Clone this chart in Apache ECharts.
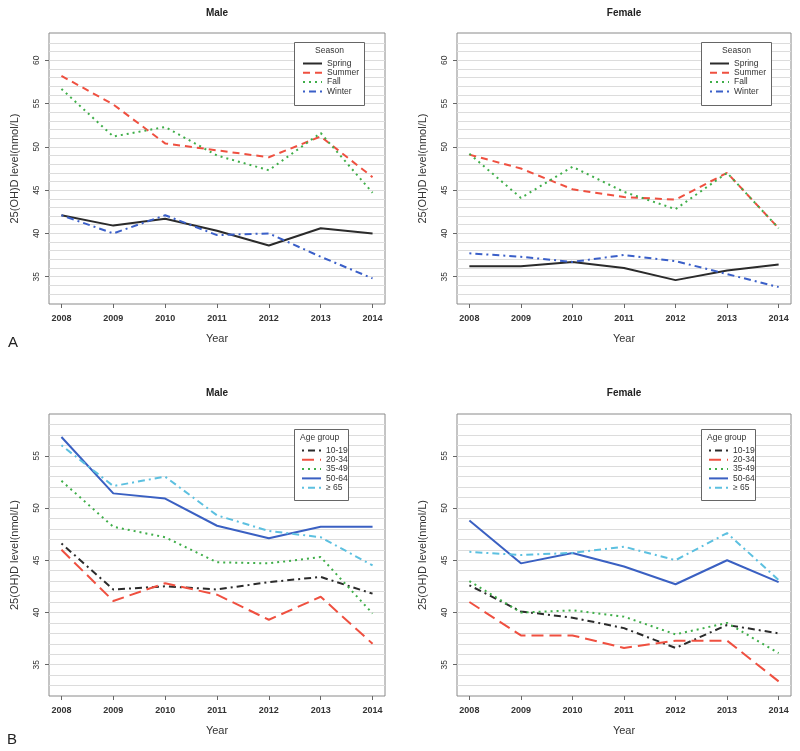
<!DOCTYPE html>
<html><head><meta charset="utf-8">
<script src="https://cdn.jsdelivr.net/npm/echarts@6/dist/echarts.min.js"></script>
<style>html,body{margin:0;padding:0;background:#fff}#c{width:800px;height:751px}</style>
</head><body><div id="c"></div>
<script>
const years = [2008, 2009, 2010, 2011, 2012, 2013, 2014];
const seasonNames = ['Spring', 'Summer', 'Fall', 'Winter'];
const ageNames = ['10-19', '20-34', '35-49', '50-64', '\u2265 65'];
const ticksA = [35, 40, 45, 50, 55, 60];
const ticksB = [35, 40, 45, 50, 55];

const maleSpring   = [42.1, 40.9, 41.7, 40.3, 38.6, 40.6, 40.0];
const maleSummer   = [58.2, 54.9, 50.4, 49.6, 48.8, 51.2, 46.5];
const maleFall     = [56.7, 51.2, 52.3, 49.0, 47.3, 51.6, 44.7];
const maleWinter   = [42.1, 40.0, 42.1, 39.8, 40.0, 37.3, 34.8];
const femaleSpring = [36.2, 36.2, 36.7, 36.0, 34.6, 35.7, 36.4];
const femaleSummer = [49.1, 47.5, 45.1, 44.2, 43.9, 47.0, 40.6];
const femaleFall   = [49.2, 44.1, 47.7, 44.8, 42.8, 47.0, 40.6];
const femaleWinter = [37.7, 37.3, 36.7, 37.5, 36.8, 35.3, 33.8];

const maleAge1019   = [46.6, 42.2, 42.5, 42.2, 42.9, 43.4, 41.8];
const maleAge2034   = [46.0, 41.1, 42.8, 41.7, 39.3, 41.5, 37.0];
const maleAge3549   = [52.6, 48.2, 47.2, 44.8, 44.7, 45.3, 39.9];
const maleAge5064   = [56.8, 51.4, 50.9, 48.3, 47.1, 48.2, 48.2];
const maleAge65     = [56.0, 52.1, 53.0, 49.3, 47.8, 47.2, 44.5];
const femaleAge1019 = [42.6, 40.1, 39.5, 38.5, 36.6, 38.8, 38.0];
const femaleAge2034 = [41.0, 37.8, 37.8, 36.6, 37.3, 37.3, 33.4];
const femaleAge3549 = [43.0, 40.0, 40.2, 39.6, 37.9, 39.0, 36.1];
const femaleAge5064 = [48.8, 44.7, 45.7, 44.4, 42.7, 45.0, 42.9];
const femaleAge65   = [45.8, 45.5, 45.7, 46.3, 45.0, 47.6, 43.1];

const seasonStyles = [
  {color: '#2b2b2b', type: 'solid'},
  {color: '#ef5040', type: [7, 5]},
  {color: '#3fae49', type: [2, 4]},
  {color: '#3a5fc8', type: [2, 4, 7, 4]}
];
const ageStyles = [
  {color: '#2b2b2b', type: [2, 4, 7, 4]},
  {color: '#ef5040', type: [12, 6]},
  {color: '#3fae49', type: [2, 4]},
  {color: '#3a60c2', type: 'solid'},
  {color: '#5cc0e0', type: [2, 4, 7, 4]}
];

const panels = [
  {grid: {left: 49, top: 33, width: 336, height: 271}, range: [33, 62], ticks: ticksA,
   names: seasonNames, styles: seasonStyles, data: [maleSpring, maleSummer, maleFall, maleWinter]},
  {grid: {left: 457, top: 33, width: 334, height: 271}, range: [33, 62], ticks: ticksA,
   names: seasonNames, styles: seasonStyles, data: [femaleSpring, femaleSummer, femaleFall, femaleWinter]},
  {grid: {left: 49, top: 414, width: 336, height: 282}, range: [33, 58], ticks: ticksB,
   names: ageNames, styles: ageStyles, data: [maleAge1019, maleAge2034, maleAge3549, maleAge5064, maleAge65]},
  {grid: {left: 457, top: 414, width: 334, height: 282}, range: [33, 58], ticks: ticksB,
   names: ageNames, styles: ageStyles, data: [femaleAge1019, femaleAge2034, femaleAge3549, femaleAge5064, femaleAge65]}
];

const font = 'Liberation Sans, Arial, sans-serif';
const txt = '#333';
const grids = [], xAxes = [], yAxes = [], gridYAxes = [], series = [];
const xPad = (years[years.length - 1] - years[0]) * 0.04;

panels.forEach((p, i) => {
  grids.push(Object.assign({show: true, borderColor: '#8a8a8a', borderWidth: 1, backgroundColor: 'transparent'}, p.grid));
  xAxes.push({
    type: 'value', gridIndex: i,
    min: years[0] - xPad, max: years[years.length - 1] + xPad,
    axisLine: {show: false},
    axisTick: {show: true, length: 4, customValues: years, lineStyle: {color: '#666'}},
    axisLabel: {customValues: years, formatter: v => String(v), margin: 10, fontSize: 9, fontWeight: 'bold', color: txt, fontFamily: font},
    splitLine: {show: false},
    name: 'Year', nameLocation: 'middle', nameGap: 29,
    nameTextStyle: {fontSize: 11, color: txt, fontFamily: font}
  });
  const span = p.range[1] - p.range[0];
  const ymin = p.range[0] - span * 0.04, ymax = p.range[1] + span * 0.04;
  const gridVals = [];
  for (let v = p.range[0]; v <= p.range[1]; v++) gridVals.push(v);
  yAxes.push({
    type: 'value', gridIndex: i, position: 'left', min: ymin, max: ymax,
    axisLine: {show: false},
    axisTick: {show: true, length: 4, customValues: p.ticks, lineStyle: {color: '#666'}},
    axisLabel: {customValues: p.ticks, rotate: 90, margin: 8, fontSize: 8.5, color: txt, fontFamily: font},
    splitLine: {show: false},
    name: '25(OH)D level(nmol/L)', nameLocation: 'middle', nameGap: 29,
    nameTextStyle: {fontSize: 11, color: txt, fontFamily: font}
  });
  gridYAxes.push({
    type: 'value', gridIndex: i, position: 'right', min: ymin, max: ymax,
    axisLine: {show: false},
    axisTick: {show: false, customValues: gridVals},
    axisLabel: {show: false},
    splitLine: {show: true, lineStyle: {color: '#dcdcdc', width: 1}}
  });
  p.names.forEach((n, k) => {
    series.push({
      type: 'line', name: n, xAxisIndex: i, yAxisIndex: i,
      data: years.map((y, j) => [y, p.data[k][j]]),
      symbol: 'none', smooth: false, z: 3,
      lineStyle: {color: p.styles[k].color, type: p.styles[k].type, width: 2},
      itemStyle: {color: p.styles[k].color},
      emphasis: {disabled: true}
    });
  });
});

function legendFor(names, left, top) {
  return {
    orient: 'vertical', left: left, top: top, padding: 0, z: 20,
    itemWidth: 19, itemHeight: 10, itemGap: 0.3,
    data: names, selectedMode: false,
    itemStyle: {color: 'rgba(0,0,0,0)', borderWidth: 0, opacity: 0},
    textStyle: {fontSize: 8.5, color: txt, fontFamily: font}
  };
}

const legends = [
  legendFor(seasonNames, 302, 59),
  legendFor(seasonNames, 709, 59),
  legendFor(ageNames, 301, 446),
  legendFor(ageNames, 708, 446)
];

const boxStyle = {fill: '#fff', stroke: '#666', lineWidth: 1};
const graphics = [
  {type: 'rect', shape: {x: 294.5, y: 42.5, width: 70, height: 63}, style: boxStyle, z: 4},
  {type: 'rect', shape: {x: 701.5, y: 42.5, width: 70, height: 63}, style: boxStyle, z: 4},
  {type: 'rect', shape: {x: 294.5, y: 429.5, width: 54, height: 71}, style: boxStyle, z: 4},
  {type: 'rect', shape: {x: 701.5, y: 429.5, width: 54, height: 71}, style: boxStyle, z: 4},
  {type: 'text', x: 329.5, y: 50.5, z: 21, style: {text: 'Season', fontSize: 8.5, fill: txt, align: 'center', verticalAlign: 'middle', fontFamily: font}},
  {type: 'text', x: 736.5, y: 50.5, z: 21, style: {text: 'Season', fontSize: 8.5, fill: txt, align: 'center', verticalAlign: 'middle', fontFamily: font}},
  {type: 'text', x: 300, y: 437.5, z: 21, style: {text: 'Age group', fontSize: 8.5, fill: txt, align: 'left', verticalAlign: 'middle', fontFamily: font}},
  {type: 'text', x: 707, y: 437.5, z: 21, style: {text: 'Age group', fontSize: 8.5, fill: txt, align: 'left', verticalAlign: 'middle', fontFamily: font}},
  {type: 'text', x: 13, y: 343, style: {text: 'A', fontSize: 15, fill: '#222', align: 'center', verticalAlign: 'middle', fontFamily: font}},
  {type: 'text', x: 12, y: 740, style: {text: 'B', fontSize: 15, fill: '#222', align: 'center', verticalAlign: 'middle', fontFamily: font}}
];

const titleStyle = {fontSize: 10, fontWeight: 'bold', color: '#222', fontFamily: font};
const titles = [
  {text: 'Male', left: 217, top: 8, textAlign: 'center', textStyle: titleStyle, padding: 0},
  {text: 'Female', left: 624, top: 8, textAlign: 'center', textStyle: titleStyle, padding: 0},
  {text: 'Male', left: 217, top: 388, textAlign: 'center', textStyle: titleStyle, padding: 0},
  {text: 'Female', left: 624, top: 388, textAlign: 'center', textStyle: titleStyle, padding: 0}
];

const chart = echarts.init(document.getElementById('c'), null, {renderer: 'canvas'});
chart.setOption({
  animation: false,
  backgroundColor: '#fff',
  title: titles,
  grid: grids,
  xAxis: xAxes,
  yAxis: yAxes.concat(gridYAxes),
  legend: legends,
  graphic: graphics,
  series: series
});
</script></body></html>
